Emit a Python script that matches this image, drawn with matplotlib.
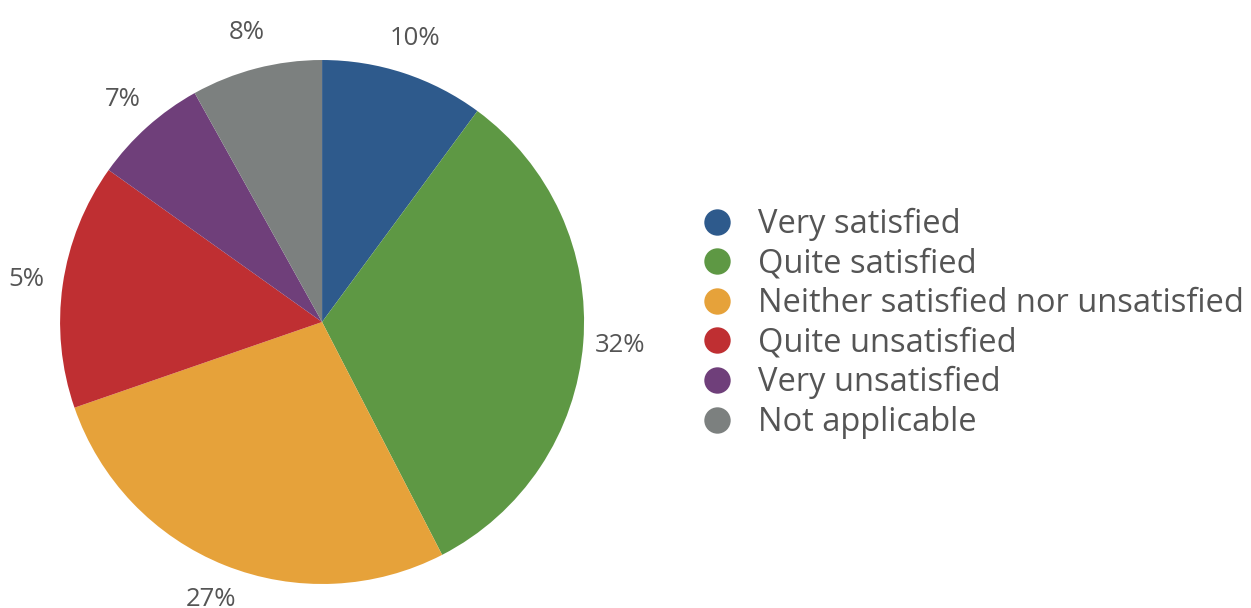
import matplotlib.pyplot as plt
from matplotlib.lines import Line2D

categories = ['Very satisfied', 'Quite satisfied', 'Neither satisfied nor unsatisfied',
              'Quite unsatisfied', 'Very unsatisfied', 'Not applicable']
values = [10, 32, 27, 15, 7, 8]
pct_labels = ['10%', '32%', '27%', '5%', '7%', '8%']
colors = ['#2e5a8c', '#5e9844', '#e6a23a', '#bf2f32', '#6f3f7a', '#7c807f']

text_col = '#555555'
plt.rcParams['font.family'] = ['Open Sans', 'DejaVu Sans']

fig = plt.figure(figsize=(12.51, 6.08), dpi=100)
ax = fig.add_axes([0.048, 0.0395, 0.4189, 0.8618])

wedges, texts = ax.pie(values, labels=pct_labels, colors=colors, startangle=90,
                       counterclock=False, labeldistance=1.14,
                       wedgeprops=dict(linewidth=0))
for t in texts:
    t.set_ha('center')
    t.set_va('center')
    t.set_fontsize(18.5)
    t.set_color(text_col)
ax.set_xlim(-1, 1)
ax.set_ylim(-1, 1)
ax.set_aspect('equal')

handles = [Line2D([], [], marker='o', linestyle='none', markersize=19,
                  markerfacecolor=c, markeredgewidth=0) for c in colors]
leg = fig.legend(handles, categories, loc='center left', bbox_to_anchor=(0.560, 0.468),
                 frameon=False, fontsize=23.5, handlelength=1, handletextpad=0.75,
                 labelspacing=0.2, borderpad=0, borderaxespad=0)
for t in leg.get_texts():
    t.set_color(text_col)

fig.savefig('out.png', dpi=100)
